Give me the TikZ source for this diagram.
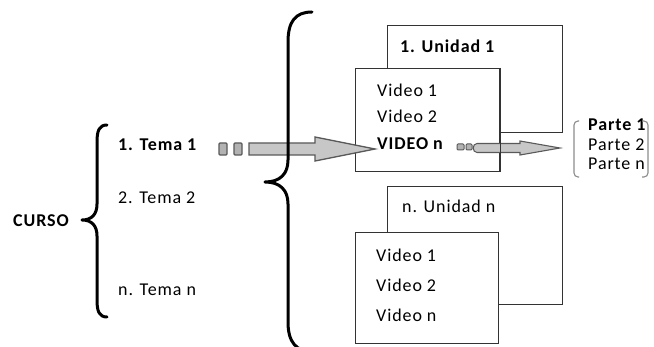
\documentclass[tikz,border=0pt]{standalone}
\usepackage{fontspec}
\setmainfont{Carlito}[LetterSpace=5]
\begin{document}
\begin{tikzpicture}[x=1pt,y=-1pt,
  lbl/.style={anchor=base west,inner sep=0pt,font=\fontsize{18}{20}\selectfont},
  blbl/.style={lbl,font=\fontsize{18}{20}\selectfont\bfseries},
  panel/.style={draw=black!80,line width=1.1pt,fill=white,anchor=north west,inner sep=0pt},
  brace/.style={draw=black,line width=3pt,line cap=round,line join=round},
  arrowbody/.style={fill=black!22,draw=black!65,line width=1.3pt,line join=miter},
  dotbox/.style={fill=black!30,draw=black!65,line width=1.2pt,rounded corners=1pt},
  paren/.style={draw=black!45,line width=1.1pt,rounded corners=4pt}]
\path[use as bounding box,fill=white] (0,0) rectangle (654,347);

% course and its topics
\node[blbl] (curso) at (13,227) {CURSO};
\node[blbl] (tema1) at (118,151) {1. Tema 1};
\node[lbl]  (tema2) at (118,204) {2. Tema 2};
\node[lbl]  (teman) at (118,296) {n. Tema n};

% left brace
\draw[brace] (107,125) .. controls (99,125) and (97,131) .. (97,142) -- (97,204)
  .. controls (97,214) and (92,220) .. (82,220)
  .. controls (92,220) and (97,226) .. (97,236) -- (97,300)
  .. controls (97,311) and (99,317) .. (107,317);

% unit 1
\node[panel,minimum width=175pt,minimum height=107pt] (u1back) at (387,25) {};
\node[blbl] (u1title) at (400,53) {1. Unidad 1};
\node[panel,minimum width=144pt,minimum height=103pt] (u1front) at (355,68) {};
\node[lbl]  (u1v1) at (377,97) {Video 1};
\node[lbl]  (u1v2) at (377,123) {Video 2};
\node[blbl] (u1vn) at (377,150) {VIDEO n};

% unit n
\node[panel,minimum width=175pt,minimum height=118pt] (unback) at (387,186) {};
\node[lbl]  (untitle) at (402,213) {n. Unidad n};
\node[panel,minimum width=143pt,minimum height=111pt] (unfront) at (355,232) {};
\node[lbl]  (unv1) at (376,262) {Video 1};
\node[lbl]  (unv2) at (376,292) {Video 2};
\node[lbl]  (unvn) at (376,322) {Video n};

% parts of a video
\node[blbl] (p1) at (588,131) {Parte 1};
\node[lbl]  (p2) at (588,151) {Parte 2};
\node[lbl]  (pn) at (588,170) {Parte n};
\draw[paren] (579,121) -- (574,121) -- (574,177) -- (579,177);
\draw[paren] (642,121) -- (648,121) -- (648,177) -- (642,177);

% arrow from the topic to the unit
\draw[dotbox] (219,143) rectangle (227,155);
\draw[dotbox] (234,143) rectangle (242,155);
\draw[arrowbody] (249,143) -- (315,143) -- (315,137) -- (375,149)
  -- (315,161) -- (315,155) -- (249,155) -- cycle;

% arrow from the video to its parts
\draw[dotbox,line width=1pt] (457,144) rectangle (464,150);
\draw[dotbox,line width=1pt] (466,144) rectangle (472,150);
\draw[arrowbody,line width=1.1pt] (477,143.5) -- (520,143.5) -- (520,141) -- (560,148)
  -- (520,155) -- (520,152.5) -- (477,152.5)
  .. controls (472,152.5) and (472,143.5) .. cycle;
\draw[black!80,line width=1.1pt] (u1front.north east) -- (u1front.south east);

% large brace over the units
\draw[brace] (312,12) .. controls (295,12) and (288,22) .. (288,42) -- (288,160)
  .. controls (288,174) and (280,182) .. (265,182)
  .. controls (280,182) and (288,190) .. (288,204) -- (288,322)
  .. controls (288,342) and (296,352) .. (314,352);
\end{tikzpicture}
\end{document}
